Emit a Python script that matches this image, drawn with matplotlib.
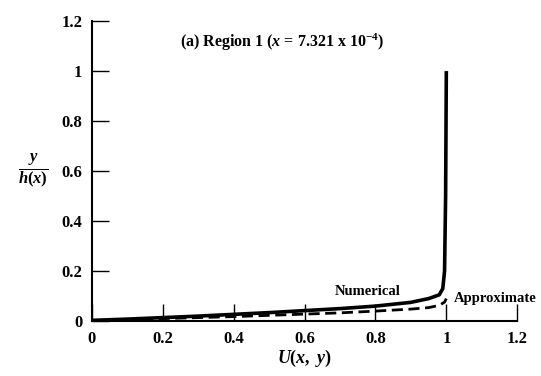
import matplotlib
matplotlib.use("Agg")
import matplotlib.pyplot as plt

plt.rcParams['font.family'] = 'Liberation Serif'
plt.rcParams['font.weight'] = 'bold'
plt.rcParams['mathtext.fontset'] = 'custom'
plt.rcParams['mathtext.rm'] = 'Liberation Serif:bold'
plt.rcParams['mathtext.it'] = 'Liberation Serif:italic:bold'
plt.rcParams['mathtext.bf'] = 'Liberation Serif:bold'

# numerical profile
u_num = [0.0, 0.1, 0.2, 0.3, 0.4, 0.5, 0.6, 0.7, 0.8, 0.9, 0.95, 0.98, 0.99, 0.995, 0.998, 1.0]
y_num = [0.003, 0.008, 0.014, 0.02, 0.027, 0.034, 0.042, 0.05, 0.06, 0.075, 0.09, 0.105, 0.13, 0.2, 0.5, 1.0]

# approximate profile
u_app = [0.0, 0.1, 0.2, 0.3, 0.4, 0.5, 0.6, 0.7, 0.8, 0.9, 0.95, 0.98, 0.995, 1.0]
y_app = [0.002, 0.006, 0.01, 0.014, 0.018, 0.023, 0.028, 0.033, 0.04, 0.048, 0.054, 0.063, 0.076, 0.09]

xticks = [0, 0.2, 0.4, 0.6, 0.8, 1, 1.2]
yticks = [0, 0.2, 0.4, 0.6, 0.8, 1, 1.2]
ticklabels = ['0', '0.2', '0.4', '0.6', '0.8', '1', '1.2']

fig = plt.figure(figsize=(5.41, 3.76), dpi=100)
ax = fig.add_axes([0.170, 0.146, 0.786, 0.798])

ax.plot(u_num, y_num, color='black', lw=2.6, solid_capstyle='butt')
ax.plot(u_app, y_app, color='black', lw=2.0, ls=(0, (4, 2)))

ax.set_xlim(0, 1.2)
ax.set_ylim(0, 1.2)
ax.set_xticks(xticks)
ax.set_yticks(yticks)
ax.set_xticklabels(ticklabels, fontsize=12, fontweight='bold')
ax.set_yticklabels(ticklabels, fontsize=12, fontweight='bold')
ax.tick_params(direction='in', length=12, width=1, pad=7)
ax.spines['top'].set_visible(False)
ax.spines['right'].set_visible(False)
ax.spines['left'].set_linewidth(1.5)
ax.spines['bottom'].set_linewidth(1.5)

ax.set_xlabel(r'$U(x,\ y)$', fontsize=13, labelpad=1)
ax.set_ylabel(r'$\frac{y}{h(x)}$', fontsize=17, rotation=0, labelpad=20, va='center')

ax.text(0.537, 1.116, r'(a) Region 1 ($x$ = 7.321 x 10$^{-4}$)', fontsize=11.5,
        ha='center', va='center', fontweight='bold')
ax.text(0.777, 0.12, 'Numerical', fontsize=10.5, ha='center', va='center', fontweight='bold')
ax.text(1.02, 0.092, 'Approximate', fontsize=10.5, ha='left', va='center', fontweight='bold')

fig.savefig('out.png', dpi=100)
